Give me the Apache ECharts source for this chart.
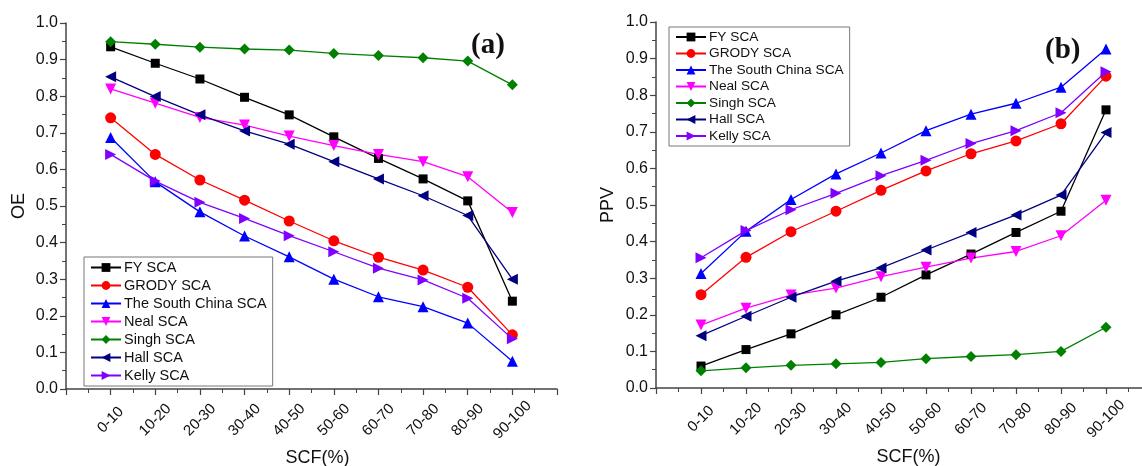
<!DOCTYPE html>
<html>
<head>
<meta charset="utf-8">
<script src="https://cdn.jsdelivr.net/npm/echarts@6/dist/echarts.min.js"></script>
<style>
  html, body { margin: 0; padding: 0; background: #fff; }
  #chart { width: 1142px; height: 466px; }
</style>
</head>
<body>
<div id="chart"></div>
<script>
const categories = ['0-10', '10-20', '20-30', '30-40', '40-50', '50-60', '60-70', '70-80', '80-90', '90-100']
const seriesNames = ['FY SCA', 'GRODY SCA', 'The South China SCA', 'Neal SCA', 'Singh SCA', 'Hall SCA', 'Kelly SCA']

// (a) OE
const oeFY = [0.935, 0.890, 0.847, 0.797, 0.749, 0.689, 0.630, 0.574, 0.514, 0.240]
const oeGrody = [0.741, 0.641, 0.571, 0.516, 0.459, 0.405, 0.360, 0.325, 0.278, 0.148]
const oeSouthChina = [0.687, 0.566, 0.484, 0.418, 0.361, 0.300, 0.252, 0.225, 0.180, 0.076]
const oeNeal = [0.820, 0.781, 0.742, 0.721, 0.691, 0.665, 0.641, 0.621, 0.580, 0.482]
const oeSingh = [0.949, 0.942, 0.934, 0.929, 0.926, 0.917, 0.911, 0.905, 0.896, 0.831]
const oeHall = [0.853, 0.799, 0.749, 0.705, 0.669, 0.621, 0.574, 0.528, 0.474, 0.300]
const oeKelly = [0.641, 0.568, 0.510, 0.466, 0.419, 0.375, 0.330, 0.298, 0.248, 0.137]

// (b) PPV
const ppvFY = [0.060, 0.105, 0.148, 0.200, 0.248, 0.309, 0.366, 0.425, 0.483, 0.760]
const ppvGrody = [0.255, 0.357, 0.427, 0.483, 0.540, 0.593, 0.640, 0.675, 0.722, 0.852]
const ppvSouthChina = [0.313, 0.428, 0.515, 0.585, 0.642, 0.703, 0.748, 0.778, 0.822, 0.926]
const ppvNeal = [0.172, 0.218, 0.254, 0.273, 0.304, 0.330, 0.355, 0.373, 0.416, 0.513]
const ppvSingh = [0.047, 0.055, 0.062, 0.066, 0.070, 0.080, 0.086, 0.091, 0.100, 0.166]
const ppvHall = [0.143, 0.196, 0.248, 0.292, 0.328, 0.377, 0.425, 0.473, 0.527, 0.698]
const ppvKelly = [0.356, 0.430, 0.487, 0.532, 0.580, 0.622, 0.668, 0.703, 0.752, 0.864]

const colors = ['#000000', '#ff0000', '#0000ff', '#ff00ff', '#008000', '#000080', '#8000ff']
const symbols = ['rect', 'circle', 'triangle', 'triangle', 'diamond', 'triangle', 'triangle']
const rotations = [0, 0, 0, 180, 0, 90, -90]
const sizes = [9, 11, 11, 11, 11, 11, 11]

const oeData = [oeFY, oeGrody, oeSouthChina, oeNeal, oeSingh, oeHall, oeKelly]
const ppvData = [ppvFY, ppvGrody, ppvSouthChina, ppvNeal, ppvSingh, ppvHall, ppvKelly]

const font = '"Liberation Sans", Arial, sans-serif'
const axisColor = '#444'

const makeXAxis = (gridIndex, namePadding) => ({
  gridIndex,
  type: 'value',
  min: 0,
  max: 11,
  interval: 1,
  name: 'SCF(%)',
  nameLocation: 'middle',
  nameGap: 50,
  nameTextStyle: { fontFamily: font, fontSize: 18, color: '#111', padding: namePadding },
  axisLine: { show: true, lineStyle: { color: axisColor, width: 1.5 } },
  axisTick: { show: true, length: 6, lineStyle: { color: axisColor, width: 1.2 } },
  minorTick: { show: true, splitNumber: 2, length: 4, lineStyle: { color: axisColor, width: 1 } },
  splitLine: { show: false },
  axisLabel: {
    rotate: 45,
    margin: 31,
    align: 'center',
    verticalAlign: 'middle',
    fontFamily: font,
    fontSize: 15,
    color: '#111',
    formatter: (v) => categories[v - 1] || ''
  }
})

const makeYAxis = (gridIndex, name, nameGap) => ({
  gridIndex,
  type: 'value',
  min: 0,
  max: 1,
  interval: 0.1,
  name,
  nameLocation: 'middle',
  nameGap,
  nameTextStyle: { fontFamily: font, fontSize: 18, color: '#111' },
  axisLine: { show: true, lineStyle: { color: axisColor, width: 1.5 } },
  axisTick: { show: true, length: 6, lineStyle: { color: axisColor, width: 1.2 } },
  minorTick: { show: true, splitNumber: 2, length: 4, lineStyle: { color: axisColor, width: 1 } },
  splitLine: { show: false },
  axisLabel: {
    margin: 8,
    fontFamily: font,
    fontSize: 16,
    color: '#111',
    formatter: (v) => v.toFixed(1)
  }
})

const makeSeries = (dataSets, axisIndex) => dataSets.map((values, i) => ({
  name: seriesNames[i],
  type: 'line',
  xAxisIndex: axisIndex,
  yAxisIndex: axisIndex,
  symbol: symbols[i],
  symbolRotate: rotations[i],
  symbolSize: sizes[i],
  showAllSymbol: true,
  color: colors[i],
  lineStyle: { width: 1.3, color: colors[i] },
  itemStyle: { color: colors[i] },
  data: values.map((v, k) => [k + 1, v])
}))

const makeLegend = (left, top, fontSize, itemGap) => ({
  orient: 'vertical',
  left,
  top,
  data: seriesNames,
  selectedMode: false,
  itemWidth: 30,
  itemHeight: 11,
  itemGap,
  padding: [3, 6, 3, 6],
  borderColor: '#777',
  borderWidth: 1,
  textStyle: { fontFamily: font, fontSize, color: '#111', padding: [0, 0, 0, -2] }
})

const chart = echarts.init(document.getElementById('chart'))
chart.setOption({
  animation: false,
  backgroundColor: '#fff',
  title: [{
    text: '(a)',
    left: 466,
    top: 26,
    textStyle: { fontFamily: '"Liberation Serif", "DejaVu Serif", serif', fontSize: 29, fontWeight: 'bold', color: '#111' }
  }, {
    text: '(b)',
    left: 1040,
    top: 31,
    textStyle: { fontFamily: '"Liberation Serif", "DejaVu Serif", serif', fontSize: 29, fontWeight: 'bold', color: '#111' }
  }],
  legend: [makeLegend(84, 257, 14.5, 3), makeLegend(669, 27, 13.7, 2.5)],
  grid: [{
    left: 66,
    top: 23,
    width: 491,
    height: 366,
    outerBoundsMode: 'none'
  }, {
    left: 656,
    top: 22,
    width: 495,
    height: 366,
    outerBoundsMode: 'none'
  }],
  xAxis: [makeXAxis(0, [0, 0, 0, 12]), makeXAxis(1, [0, 0, 0, 10])],
  yAxis: [makeYAxis(0, 'OE', 38), makeYAxis(1, 'PPV', 39)],
  series: [...makeSeries(oeData, 0), ...makeSeries(ppvData, 1)]
})
</script>
</body>
</html>
